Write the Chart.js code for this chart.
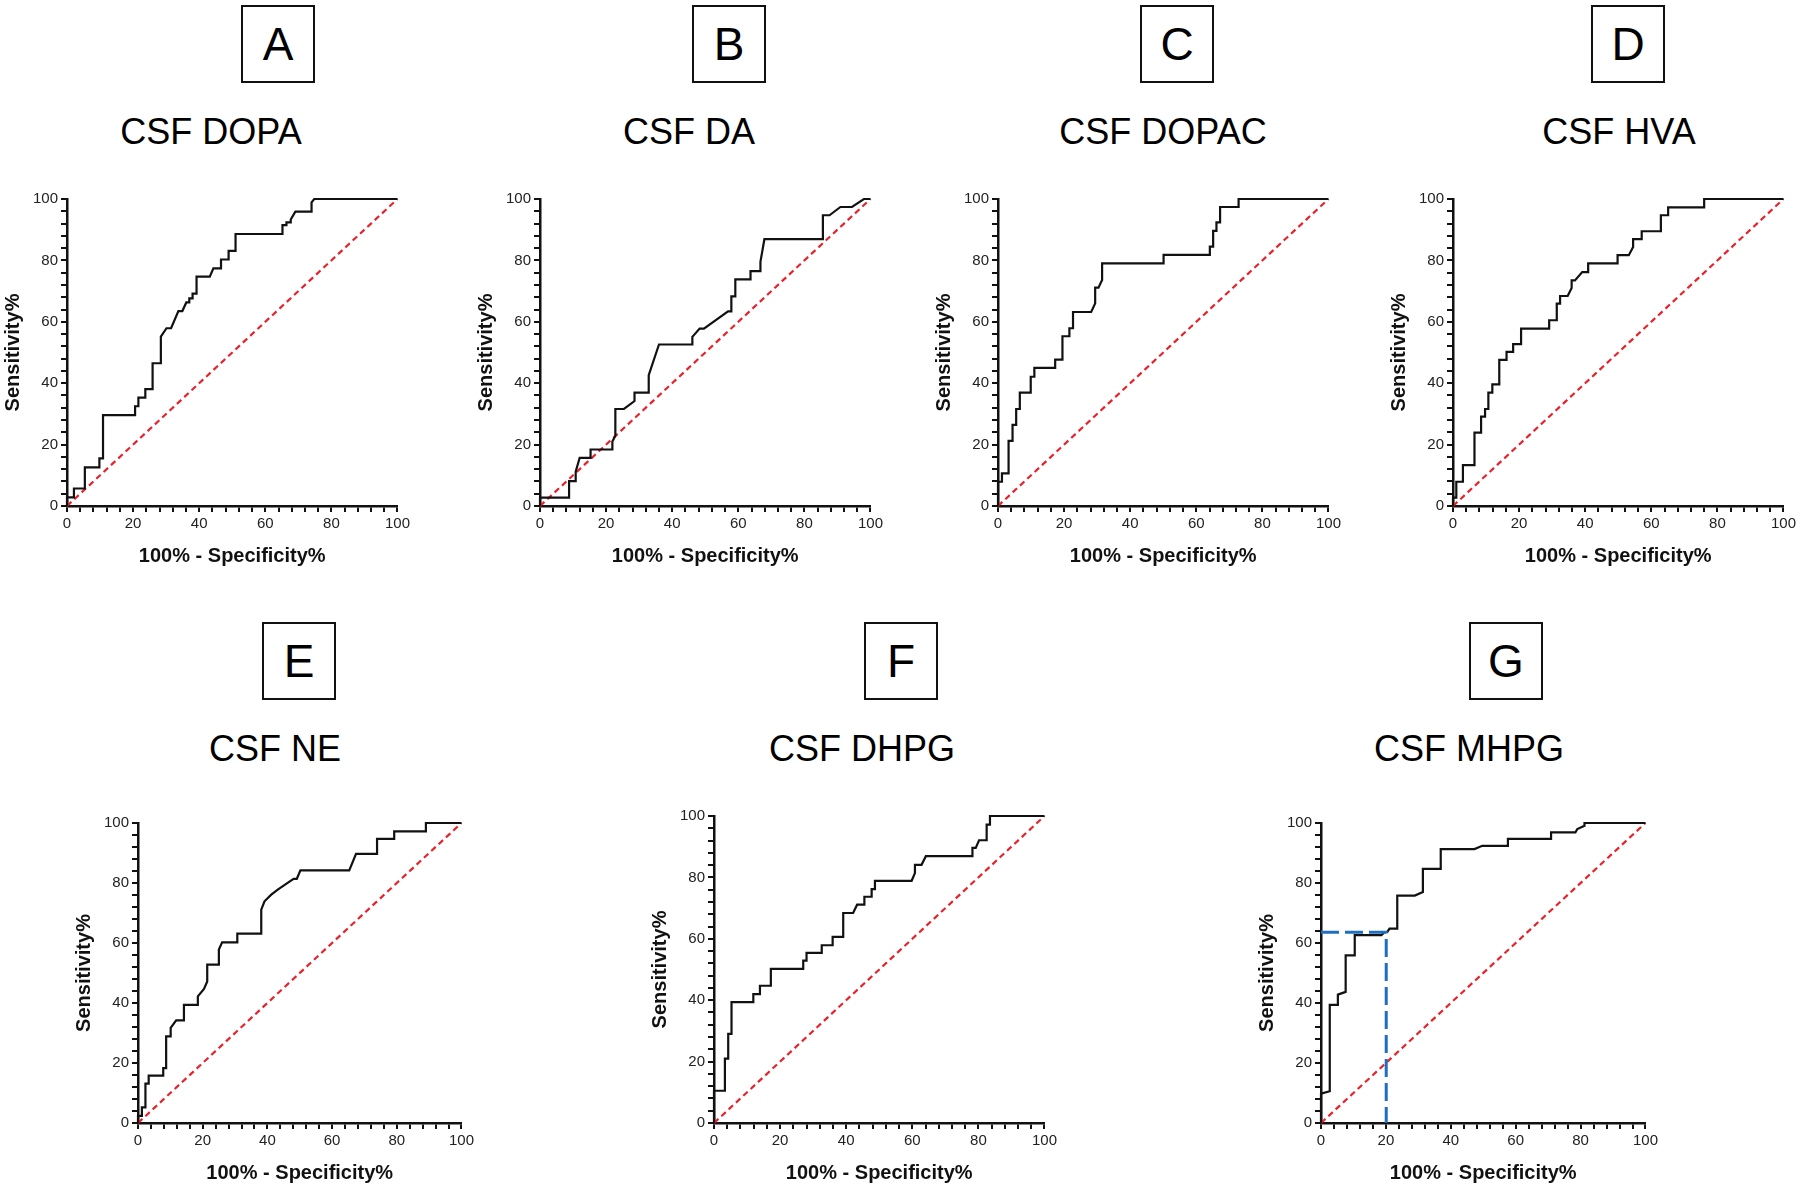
<!DOCTYPE html>
<html>
<head>
<meta charset="utf-8">
<script src="https://cdn.jsdelivr.net/npm/chart.js@4.4.1/dist/chart.umd.min.js"></script>
<style>
    html, body { margin: 0; padding: 0; background: #fff; width: 1800px; height: 1190px; overflow: hidden; }
    body { position: relative; font-family: "Liberation Sans", Arial, sans-serif; }
    .letter {
        position: absolute; box-sizing: border-box; border: 2px solid #111;
        display: flex; align-items: center; justify-content: center;
        font-size: 46px; color: #000; width: 74px; height: 78px;
    }
    .title {
        position: absolute; width: 400px; text-align: center;
        font-size: 36px; line-height: 36px; color: #000; white-space: nowrap;
    }
    canvas { position: absolute; }
</style>
</head>
<body>

<div class="letter" style="left:241px; top:5px;">A</div>
<div class="letter" style="left:692px; top:5px;">B</div>
<div class="letter" style="left:1140px; top:5px;">C</div>
<div class="letter" style="left:1591px; top:5px;">D</div>
<div class="letter" style="left:262px; top:622px;">E</div>
<div class="letter" style="left:864px; top:622px;">F</div>
<div class="letter" style="left:1469px; top:622px;">G</div>

<div class="title" style="left:11px; top:114px;">CSF DOPA</div>
<div class="title" style="left:489px; top:114px;">CSF DA</div>
<div class="title" style="left:963px; top:114px;">CSF DOPAC</div>
<div class="title" style="left:1419px; top:114px;">CSF HVA</div>
<div class="title" style="left:75px; top:731px;">CSF NE</div>
<div class="title" style="left:662px; top:731px;">CSF DHPG</div>
<div class="title" style="left:1269px; top:731px;">CSF MHPG</div>

<canvas id="rocA" width="412" height="389" style="left:1px; top:187px;"></canvas>
<canvas id="rocB" width="412" height="389" style="left:474px; top:187px;"></canvas>
<canvas id="rocC" width="412" height="389" style="left:932px; top:187px;"></canvas>
<canvas id="rocD" width="412" height="389" style="left:1387px; top:187px;"></canvas>
<canvas id="rocE" width="405" height="382" style="left:72px; top:811px;"></canvas>
<canvas id="rocF" width="412" height="389" style="left:648px; top:804px;"></canvas>
<canvas id="rocG" width="406" height="382" style="left:1255px; top:811px;"></canvas>

<script>
// ROC curves: [100% - specificity, sensitivity]
const dopaRoc = [[0,0],[0,2.8],[2.1,2.8],[2.1,5.7],[5.4,5.7],[5.4,12.6],[9.8,12.6],[9.8,15.5],[10.9,15.5],[10.9,29.6],
    [20.6,29.6],[20.6,32.5],[21.6,32.5],[21.6,35.3],[23.7,35.3],[23.7,38.1],[25.9,38.1],[25.9,46.5],[28.4,46.5],[28.4,55.2],
    [30.1,57.9],[31.5,57.9],[33.7,63.5],[34.9,63.5],[36.1,66.3],[37.0,66.3],[37.0,67.6],[38.0,67.6],[38.0,69.2],[39.2,69.2],
    [39.2,74.7],[43.2,74.7],[44.3,77.4],[46.6,77.4],[46.6,80.3],[48.9,80.3],[48.9,83.1],[51.0,83.1],[51.0,88.6],[65.2,88.6],
    [65.2,91.5],[66.4,91.5],[66.4,92.4],[67.7,92.4],[67.7,93.3],[69.1,95.9],[74.0,95.9],[74.0,98.9],[74.8,100],[100,100]];

const daRoc = [[0,0],[0,2.7],[8.8,2.7],[8.8,8.1],[10.8,8.1],[10.8,11.2],[12.0,15.7],[15.3,15.7],[15.3,18.4],[21.9,18.4],
    [21.9,21.0],[22.8,22.9],[22.8,31.6],[25.4,31.6],[28.6,34.2],[28.6,36.9],[32.9,36.9],[32.9,42.6],[36.0,52.6],[46.1,52.6],
    [46.1,55.1],[48.3,57.8],[49.6,57.8],[56.9,63.4],[57.9,63.4],[57.9,68.3],[59.1,68.3],[59.1,73.8],[63.7,73.8],[63.7,76.5],
    [66.7,76.5],[66.7,79.5],[67.9,86.9],[85.6,86.9],[85.6,94.7],[87.6,94.7],[90.9,97.4],[94.4,97.4],[98.0,100],[100,100]];

const dopacRoc = [[0,0],[0,7.9],[1.2,7.9],[1.2,10.6],[3.2,10.6],[3.2,21.2],[4.4,21.2],[4.4,26.4],[5.5,26.4],[5.5,31.6],
    [6.6,31.6],[6.6,36.9],[9.9,36.9],[9.9,42.1],[11.0,42.1],[11.0,45.0],[17.3,45.0],[17.3,47.7],[19.5,47.7],[19.5,55.3],
    [21.6,55.3],[21.6,57.9],[22.7,57.9],[22.7,63.2],[28.2,63.2],[29.4,66.0],[29.4,71.1],[30.4,71.1],[31.5,73.6],[31.5,79.0],
    [50.1,79.0],[50.1,81.8],[64.1,81.8],[64.1,84.5],[65.1,84.5],[65.1,89.6],[66.1,89.6],[66.1,92.4],[67.2,92.4],[67.2,97.4],
    [72.8,97.4],[72.8,100],[100,100]];

const hvaRoc = [[0,0],[0,2.7],[1.0,2.7],[1.0,7.9],[3.0,7.9],[3.0,13.3],[6.5,13.3],[6.5,23.9],[8.5,23.9],[8.5,29.1],
    [9.7,29.1],[9.7,31.6],[10.7,31.6],[10.7,36.9],[11.9,36.9],[11.9,39.6],[14.0,39.6],[14.0,47.6],[16.2,47.6],[16.2,50.2],
    [18.2,50.2],[18.2,52.7],[20.6,52.7],[20.6,57.8],[29.1,57.8],[29.1,60.5],[31.4,60.5],[31.4,65.9],[32.4,65.9],[32.4,68.4],
    [34.7,68.4],[35.9,71.0],[35.9,73.5],[36.9,73.5],[39.1,76.2],[40.9,76.2],[40.9,79.0],[49.8,79.0],[49.8,81.7],[53.2,81.7],
    [54.5,84.4],[54.5,86.9],[57.1,86.9],[57.1,89.5],[62.9,89.5],[62.9,94.7],[65.1,94.7],[65.1,97.3],[76.0,97.3],[76.0,100],[100,100]];

const neRoc = [[0,0],[0,2.4],[1.2,2.4],[1.2,5.2],[2.3,5.2],[2.3,13.1],[3.3,13.1],[3.3,15.8],[7.8,15.8],[7.8,18.3],
    [8.7,18.3],[8.7,28.9],[10.1,28.9],[10.1,31.7],[11.8,34.2],[14.2,34.2],[14.2,39.4],[18.5,39.4],[18.5,42.2],[20.4,44.7],
    [21.4,47.2],[21.4,52.8],[25.0,52.8],[25.0,57.8],[26.0,60.2],[30.7,60.2],[30.7,63.1],[38.1,63.1],[38.1,71.1],[39.1,73.9],
    [41.2,76.1],[43.2,77.8],[45.8,79.7],[48.1,81.4],[49.1,81.4],[50.2,84.2],[65.3,84.2],[67.4,89.7],[73.9,89.7],[73.9,94.7],
    [79.2,94.7],[79.2,97.2],[89.0,97.2],[89.0,100],[100,100]];

const dhpgRoc = [[0,0],[0,10.5],[3.3,10.5],[3.3,21.0],[4.3,21.0],[4.3,29.0],[5.3,29.0],[5.3,39.4],[11.9,39.4],[11.9,42.0],
    [13.9,42.0],[13.9,44.7],[17.2,44.7],[17.2,50.2],[27.0,50.2],[27.0,52.9],[28.0,52.9],[28.0,55.4],[32.6,55.4],[32.6,57.9],
    [35.9,57.9],[35.9,60.6],[39.1,60.6],[39.1,68.4],[42.1,68.4],[43.3,71.1],[45.5,71.1],[45.5,73.7],[47.7,73.7],[47.7,76.2],
    [48.7,76.2],[48.7,78.9],[59.8,78.9],[60.8,81.4],[60.8,84.1],[62.8,84.1],[64.1,86.9],[78.2,86.9],[78.2,89.6],[79.2,89.6],
    [80.2,92.1],[82.5,92.1],[82.5,97.2],[83.5,97.2],[83.5,100],[100,100]];

const mhpgRoc = [[0,0],[0,9.8],[2.7,10.6],[2.7,39.4],[5.2,39.4],[5.2,42.8],[7.6,43.7],[7.6,55.9],[10.4,55.9],[10.4,62.6],
    [18.6,62.6],[19.6,63.6],[20.4,63.6],[21.1,64.8],[23.5,64.8],[23.5,75.8],[28.9,75.8],[31.4,77.0],[31.4,84.7],[36.9,84.7],
    [36.9,91.3],[47.3,91.3],[49.7,92.4],[57.6,92.4],[57.6,94.7],[70.9,94.7],[70.9,96.9],[78.4,96.9],[79.0,98.0],[81.2,99.1],
    [81.2,100],[100,100]];

// cut-off marked on the MHPG curve
const mhpgCutoff = [[0,63.6],[20.1,63.6],[20.1,0]];

// line of no discrimination
const chanceLine = [[0,0],[100,100]];

const xTitle = '100% - Specificity%';
const yTitle = 'Sensitivity%';

Chart.defaults.font.family = '"Liberation Sans", Arial, sans-serif';

function toPoints(arr) {
    return arr.map(p => ({ x: p[0], y: p[1] }));
}

function axis(title, isY) {
    return {
        type: 'linear',
        min: 0,
        max: 100,
        border: { color: '#111', width: 2.5 },
        grid: { drawOnChartArea: false, drawTicks: true, tickLength: 6, color: '#111', lineWidth: 2 },
        ticks: {
            stepSize: 4,
            autoSkip: false,
            maxRotation: 0,
            padding: isY ? 3 : 3,
            color: '#222',
            font: { size: 15 },
            callback: v => (v % 20 === 0 ? v : '')
        },
        title: {
            display: true,
            text: title,
            color: '#111',
            font: { size: 20, weight: 'bold' },
            padding: isY ? { top: 0, bottom: 0 } : { top: 0, bottom: 8 }
        },
        afterFit: function (scale) {
            if (isY) scale.width = 66;
            else scale.height = 70;
        }
    };
}

function makeRoc(canvasId, curve, extra) {
    const datasets = [{
        data: toPoints(curve),
        borderColor: '#111',
        borderWidth: 2.2,
        order: 1
    }, {
        data: toPoints(chanceLine),
        borderColor: '#e8222a',
        borderWidth: 2.2,
        borderDash: [6, 4],
        order: 2
    }];
    if (extra) datasets.push(extra);

    const ctx = document.getElementById(canvasId).getContext('2d');
    return new Chart(ctx, {
        type: 'scatter',
        data: { datasets: datasets.map(d => Object.assign({ showLine: true, pointRadius: 0, tension: 0, clip: false }, d)) },
        options: {
            responsive: false,
            animation: false,
            devicePixelRatio: 1,
            layout: { padding: { top: 12, right: 15, left: 0, bottom: 0 } },
            plugins: { legend: { display: false }, tooltip: { enabled: false } },
            scales: { x: axis(xTitle, false), y: axis(yTitle, true) }
        }
    });
}

makeRoc('rocA', dopaRoc);
makeRoc('rocB', daRoc);
makeRoc('rocC', dopacRoc);
makeRoc('rocD', hvaRoc);
makeRoc('rocE', neRoc);
makeRoc('rocF', dhpgRoc);
makeRoc('rocG', mhpgRoc, {
    data: toPoints(mhpgCutoff),
    borderColor: '#1f6fc0',
    borderWidth: 3,
    borderDash: [18, 6],
    order: 0
});
</script>
</body>
</html>
